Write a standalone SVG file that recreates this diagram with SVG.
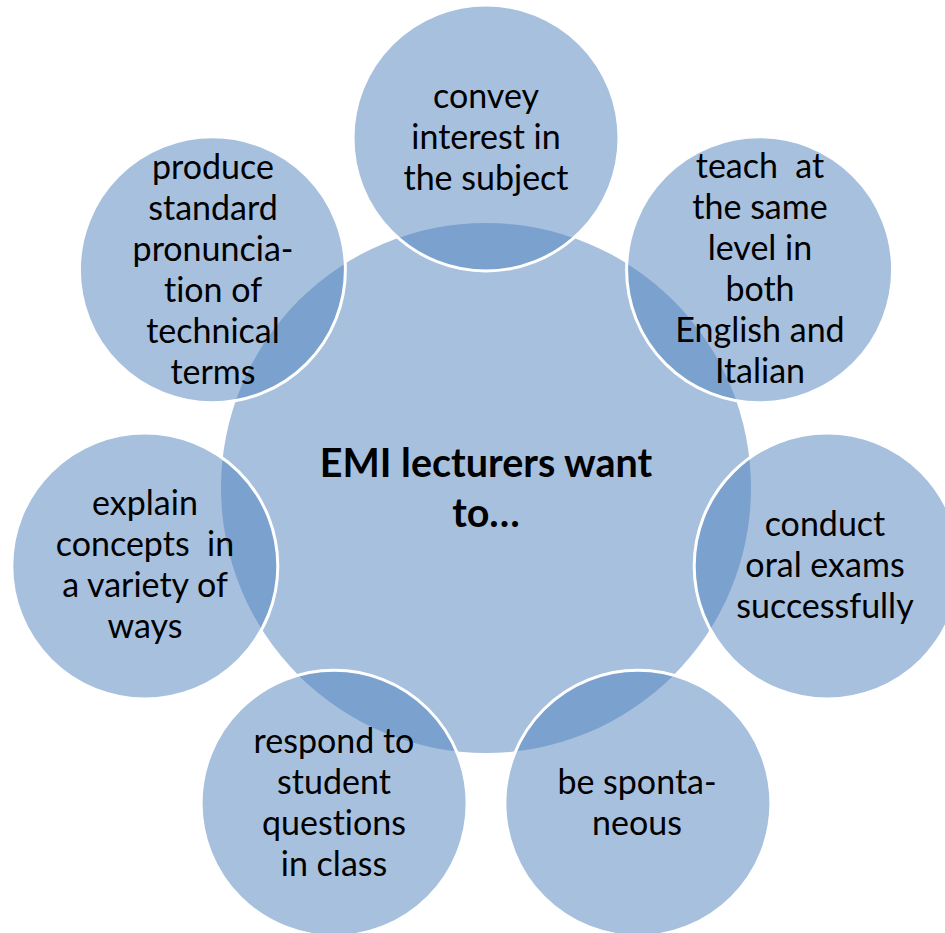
<svg xmlns="http://www.w3.org/2000/svg" width="945" height="933" viewBox="0 0 945 933">
<style>
.bg{fill:#ffffff}
.hub{fill:#4F81BD;fill-opacity:0.5}
.sat{fill:#4F81BD;fill-opacity:0.5;stroke:#ffffff;stroke-width:3}
.t{font-family:Lato,"Liberation Sans",sans-serif;font-size:34px;fill:#000;text-anchor:middle;white-space:pre;font-variant-ligatures:none;font-feature-settings:"liga" 0}
.h{font-family:Lato,"Liberation Sans",sans-serif;font-size:39.5px;font-weight:bold;fill:#000;text-anchor:middle;font-variant-ligatures:none}
</style>
<rect class="bg" x="0" y="0" width="945" height="933"/>
<g id="hub">
<circle class="hub" cx="486" cy="488" r="265"/>
</g>
<g id="connectors"></g>
<g id="sat-top">
<circle class="sat" cx="486" cy="138" r="133"/>
<text class="t"><tspan x="486" y="108">convey</tspan><tspan x="486" y="149">interest in</tspan><tspan x="486" y="190">the subject</tspan></text>
</g>
<g id="sat-topright">
<circle class="sat" cx="759.6" cy="269.8" r="133"/>
<text class="t" xml:space="preserve"><tspan x="760" y="178">teach  at</tspan><tspan x="760" y="219">the same</tspan><tspan x="760" y="260">level in</tspan><tspan x="760" y="301">both</tspan><tspan x="760" y="342">English and</tspan><tspan x="760" y="383">Italian</tspan></text>
</g>
<g id="sat-right">
<circle class="sat" cx="827.2" cy="565.9" r="133"/>
<text class="t"><tspan x="825" y="536">conduct</tspan><tspan x="825" y="577">oral exams</tspan><tspan x="825" y="618">successfully</tspan></text>
</g>
<g id="sat-bottomright">
<circle class="sat" cx="637.9" cy="803.3" r="133"/>
<text class="t"><tspan x="637" y="794">be sponta-</tspan><tspan x="637" y="835">neous</tspan></text>
</g>
<g id="sat-bottomleft">
<circle class="sat" cx="334.1" cy="803.3" r="133"/>
<text class="t"><tspan x="334" y="753">respond to</tspan><tspan x="334" y="794">student</tspan><tspan x="334" y="835">questions</tspan><tspan x="334" y="876">in class</tspan></text>
</g>
<g id="sat-left">
<circle class="sat" cx="144.8" cy="565.9" r="133"/>
<text class="t" xml:space="preserve"><tspan x="145" y="515">explain</tspan><tspan x="145" y="556">concepts  in</tspan><tspan x="145" y="597">a variety of</tspan><tspan x="145" y="638">ways</tspan></text>
</g>
<g id="sat-topleft">
<circle class="sat" cx="212.4" cy="269.8" r="133"/>
<text class="t"><tspan x="213" y="179">produce</tspan><tspan x="213" y="220">standard</tspan><tspan x="213" y="261">pronuncia-</tspan><tspan x="213" y="302">tion of</tspan><tspan x="213" y="343">technical</tspan><tspan x="213" y="384">terms</tspan></text>
</g>
<g id="hub-label">
<text class="h"><tspan x="486" y="477">EMI lecturers want</tspan><tspan x="486" y="527">to…</tspan></text>
</g>
</svg>
